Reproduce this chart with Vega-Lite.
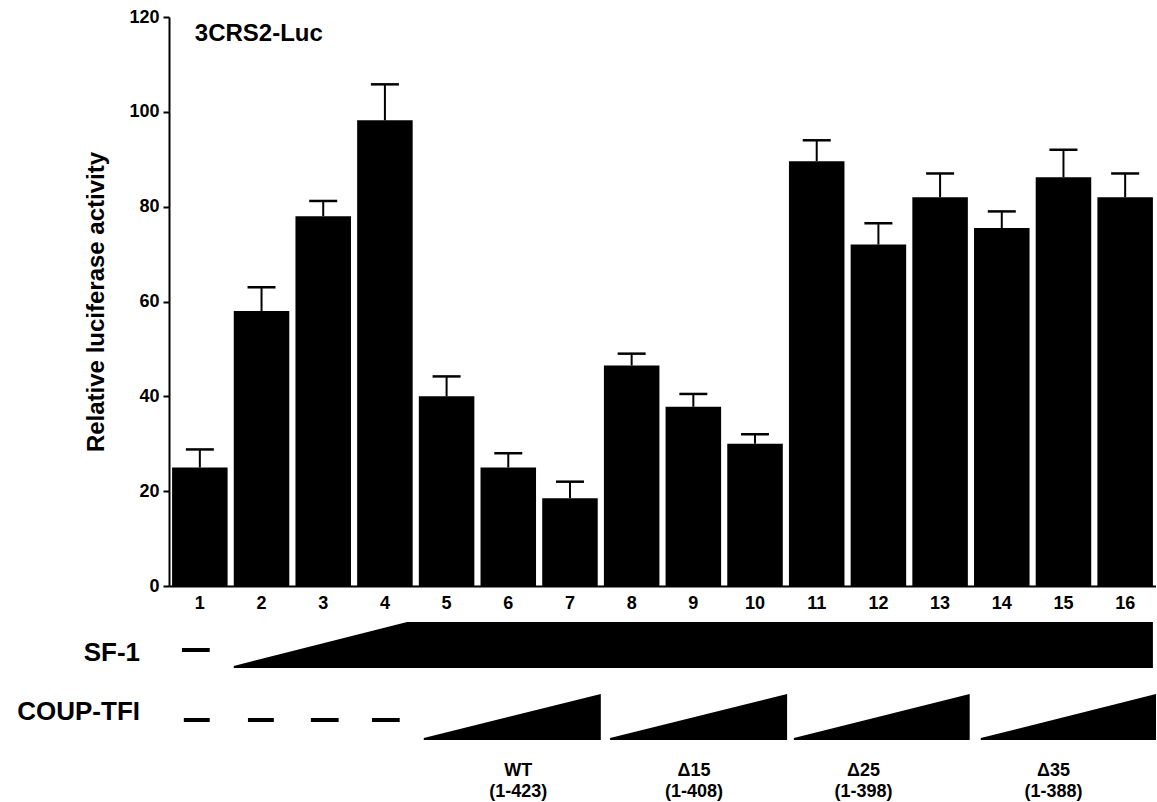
{
  "$schema": "https://vega.github.io/schema/vega-lite/v6.json",
  "padding": {"left": 17, "top": 8, "right": 0, "bottom": 1},
  "spacing": 3,
  "config": {"view": {"stroke": null}, "font": "Liberation Sans"},
  "vconcat": [
    {
      "width": 987,
      "height": 569,
      "data": {"values": [
        {"lane": 1, "value": 25, "upper": 28.8},
        {"lane": 2, "value": 58, "upper": 63},
        {"lane": 3, "value": 78, "upper": 81.2},
        {"lane": 4, "value": 98.2, "upper": 105.8},
        {"lane": 5, "value": 40, "upper": 44.2},
        {"lane": 6, "value": 25, "upper": 28},
        {"lane": 7, "value": 18.5, "upper": 22},
        {"lane": 8, "value": 46.5, "upper": 49},
        {"lane": 9, "value": 37.8, "upper": 40.5},
        {"lane": 10, "value": 30, "upper": 32},
        {"lane": 11, "value": 89.6, "upper": 94},
        {"lane": 12, "value": 72, "upper": 76.5},
        {"lane": 13, "value": 82, "upper": 87},
        {"lane": 14, "value": 75.5, "upper": 79},
        {"lane": 15, "value": 86.2, "upper": 92},
        {"lane": 16, "value": 82, "upper": 87}
      ]},
      "encoding": {
        "x": {
          "field": "lane", "type": "ordinal",
          "scale": {"paddingInner": 0.1, "paddingOuter": 0.05},
          "axis": {"title": null, "labelAngle": 0, "ticks": false, "labelFontSize": 18, "labelFontWeight": "bold", "labelColor": "black", "domainColor": "black", "domainWidth": 2, "labelPadding": 8}
        }
      },
      "layer": [
        {
          "mark": {"type": "bar", "color": "black"},
          "encoding": {
            "y": {
              "field": "value", "type": "quantitative",
              "scale": {"domain": [0, 120], "nice": false},
              "axis": {"values": [0, 20, 40, 60, 80, 100, 120], "grid": false, "labelFontSize": 18, "labelFontWeight": "bold", "labelColor": "black", "tickColor": "black", "tickSize": 6, "tickWidth": 2, "domainColor": "black", "domainWidth": 2, "labelPadding": 4, "title": "Relative luciferase activity", "titleFontSize": 24, "titleFontWeight": "bold", "titleColor": "black", "titlePadding": 20}
            }
          }
        },
        {
          "mark": {"type": "rule", "color": "black", "strokeWidth": 2},
          "encoding": {
            "y": {"field": "value", "type": "quantitative"},
            "y2": {"field": "upper"}
          }
        },
        {
          "mark": {"type": "tick", "color": "black", "size": 28, "thickness": 2.5, "opacity": 1},
          "encoding": {
            "y": {"field": "upper", "type": "quantitative"}
          }
        },
        {
          "data": {"values": [{"lane": 1, "v": 116.4, "label": "3CRS2-Luc"}]},
          "mark": {"type": "text", "align": "left", "baseline": "middle", "dx": -5, "fontSize": 24, "fontWeight": "bold", "color": "black"},
          "encoding": {
            "y": {"field": "v", "type": "quantitative"},
            "text": {"field": "label"}
          }
        }
      ]
    },
    {
      "width": 987,
      "height": 185,
      "layer": [
        {
          "data": {"values": [
            {"shape": "SF-1", "x": 1.05, "top": 13.4, "base": 13.2},
            {"shape": "SF-1", "x": 3.86, "top": 17.8, "base": 13.2},
            {"shape": "SF-1", "x": 15.95, "top": 17.8, "base": 13.2},
            {"shape": "WT", "x": 4.13, "top": 6.2, "base": 6.0},
            {"shape": "WT", "x": 7.0, "top": 10.6, "base": 6.0},
            {"shape": "D15", "x": 7.15, "top": 6.2, "base": 6.0},
            {"shape": "D15", "x": 10.02, "top": 10.6, "base": 6.0},
            {"shape": "D25", "x": 10.13, "top": 6.2, "base": 6.0},
            {"shape": "D25", "x": 12.98, "top": 10.6, "base": 6.0},
            {"shape": "D35", "x": 13.16, "top": 6.2, "base": 6.0},
            {"shape": "D35", "x": 16.0, "top": 10.6, "base": 6.0}
          ]},
          "mark": {"type": "area", "color": "black", "opacity": 1, "interpolate": "linear"},
          "encoding": {
            "x": {"field": "x", "type": "quantitative", "scale": {"domain": [0, 16], "nice": false, "zero": false}, "axis": null},
            "y": {"field": "top", "type": "quantitative", "scale": {"domain": [0, 18.5], "nice": false}, "axis": null},
            "y2": {"field": "base"},
            "detail": {"field": "shape"}
          }
        },
        {
          "data": {"values": [
            {"x": 0.21, "x2": 0.66, "y": 15.0},
            {"x": 0.24, "x2": 0.66, "y": 8.0},
            {"x": 1.28, "x2": 1.70, "y": 8.0},
            {"x": 2.30, "x2": 2.75, "y": 8.0},
            {"x": 3.29, "x2": 3.74, "y": 8.0}
          ]},
          "mark": {"type": "rule", "color": "black", "strokeWidth": 4},
          "encoding": {
            "x": {"field": "x", "type": "quantitative"},
            "x2": {"field": "x2"},
            "y": {"field": "y", "type": "quantitative"}
          }
        },
        {
          "data": {"values": [
            {"label": "SF-1", "x": -0.47, "y": 14.7},
            {"label": "COUP-TFI", "x": -0.47, "y": 8.8}
          ]},
          "mark": {"type": "text", "align": "right", "baseline": "middle", "fontSize": 26, "fontWeight": "bold", "color": "black"},
          "encoding": {
            "x": {"field": "x", "type": "quantitative"},
            "y": {"field": "y", "type": "quantitative"},
            "text": {"field": "label"}
          }
        },
        {
          "data": {"values": [
            {"label": "WT", "x": 5.66, "y": 2.9},
            {"label": "(1-423)", "x": 5.66, "y": 0.8},
            {"label": "Δ15", "x": 8.51, "y": 2.9},
            {"label": "(1-408)", "x": 8.51, "y": 0.8},
            {"label": "Δ25", "x": 11.26, "y": 2.9},
            {"label": "(1-398)", "x": 11.26, "y": 0.8},
            {"label": "Δ35", "x": 14.34, "y": 2.9},
            {"label": "(1-388)", "x": 14.34, "y": 0.8}
          ]},
          "mark": {"type": "text", "align": "center", "baseline": "middle", "fontSize": 18, "fontWeight": "bold", "color": "black"},
          "encoding": {
            "x": {"field": "x", "type": "quantitative"},
            "y": {"field": "y", "type": "quantitative"},
            "text": {"field": "label"}
          }
        }
      ]
    }
  ]
}
